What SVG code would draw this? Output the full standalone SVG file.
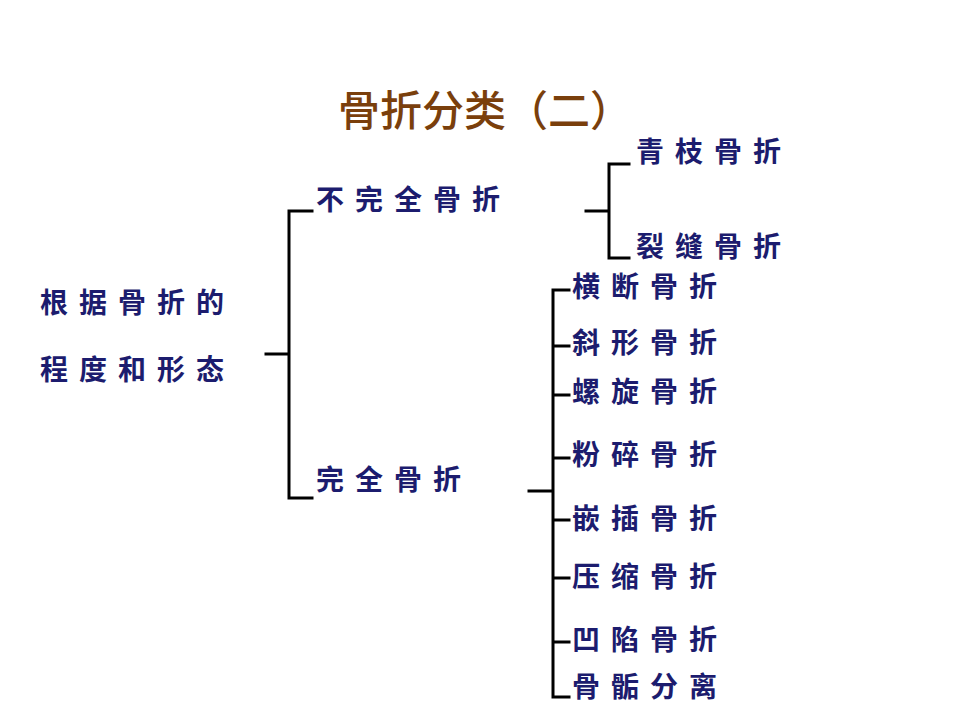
<svg xmlns="http://www.w3.org/2000/svg" width="960" height="720" viewBox="0 0 960 720">
<style>
.t{font-family:"Noto Sans CJK SC","Noto Sans CJK TC",sans-serif;font-size:28px;font-weight:bold;fill:#1c1c6e;letter-spacing:11px}
.ti{font-family:"Noto Sans CJK SC",sans-serif;font-size:42px;font-weight:500;fill:#7a3f0c}
.c{stroke:#000;stroke-width:3;fill:none;stroke-linecap:square}
</style>
<rect width="960" height="720" fill="#fff"/>
<text class="ti" x="338" y="126">骨折分类（二）</text>
<g id="connectors">
<path class="c" d="M266 354H289M289 211V498M289 211H312M289 498H312"/>
<path class="c" d="M586 211H609M609 164V258M609 164H629M609 258H629"/>
<path class="c" d="M529 491H553M553 290V697M553 290H569M553 346H569M553 395H569M553 458H569M553 520H569M553 578H569M553 642H569M553 697H569"/>
</g>
<g id="root"><text class="t" x="40" y="313">根据骨折的</text><text class="t" x="40" y="380">程度和形态</text></g>
<g id="incomplete"><text class="t" x="316" y="210">不完全骨折</text></g>
<g id="complete"><text class="t" x="316" y="490">完全骨折</text></g>
<g id="n1"><text class="t" x="636" y="162">青枝骨折</text></g>
<g id="n2"><text class="t" x="636" y="257">裂缝骨折</text></g>
<g id="n3"><text class="t" x="572" y="297">横断骨折</text></g>
<g id="n4"><text class="t" x="572" y="353">斜形骨折</text></g>
<g id="n5"><text class="t" x="572" y="402">螺旋骨折</text></g>
<g id="n6"><text class="t" x="572" y="465">粉碎骨折</text></g>
<g id="n7"><text class="t" x="572" y="529">嵌插骨折</text></g>
<g id="n8"><text class="t" x="572" y="587">压缩骨折</text></g>
<g id="n9"><text class="t" x="572" y="650">凹陷骨折</text></g>
<g id="n10"><text class="t" x="572" y="697">骨骺分离</text></g>
</svg>
